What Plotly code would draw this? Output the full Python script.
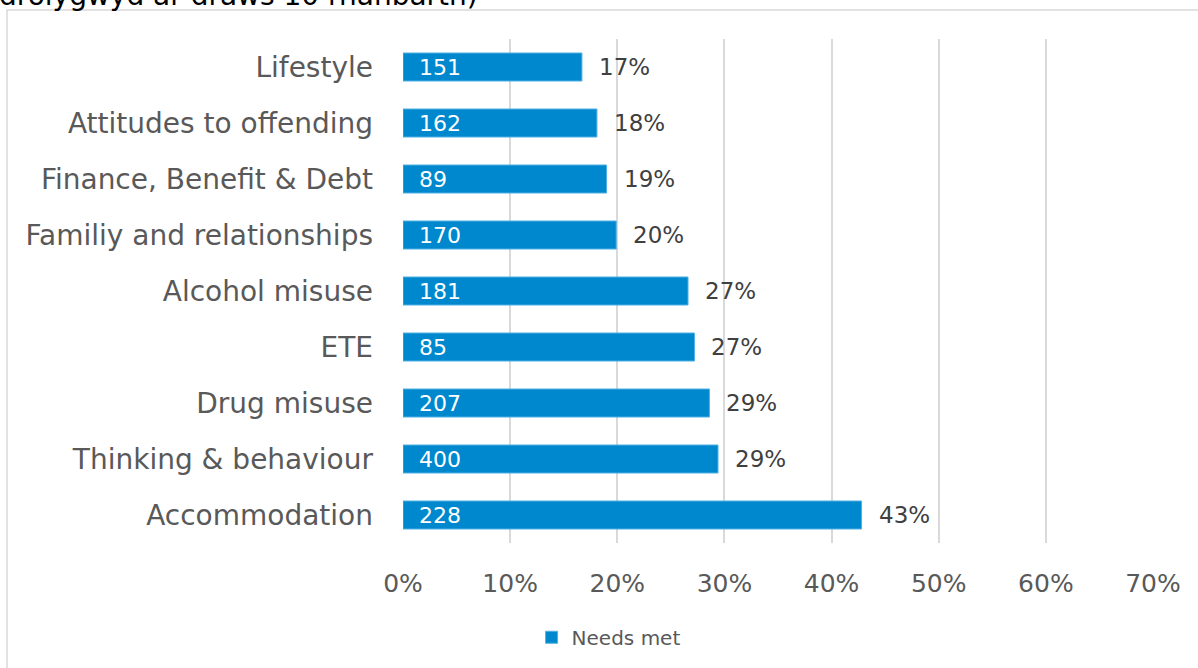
import plotly.graph_objects as go

categories = ["Accommodation", "Thinking & behaviour", "Drug misuse", "ETE",
              "Alcohol misuse", "Familiy and relationships", "Finance, Benefit & Debt",
              "Attitudes to offending", "Lifestyle"]
share = [0.428, 0.294, 0.286, 0.272, 0.266, 0.199, 0.190, 0.181, 0.167]
counts = [228, 400, 207, 85, 181, 170, 89, 162, 151]
pct_labels = ["43%", "29%", "29%", "27%", "27%", "20%", "19%", "18%", "17%"]
x_ticks = [0, 0.1, 0.2, 0.3, 0.4, 0.5, 0.6, 0.7]
x_tick_labels = ["0%", "10%", "20%", "30%", "40%", "50%", "60%", "70%"]
series_name = "Needs met"
title_fragment = "drolygwyd ar draws 10 rhanbarth)"

FONT = "Verdana, DejaVu Sans, sans-serif"
BLUE = "#0088CE"

fig = go.Figure()
fig.add_trace(go.Bar(
    y=categories, x=share, orientation="h", name=series_name,
    marker=dict(color=BLUE, line=dict(color="#4FB0E3", width=1)),
    width=0.5, hoverinfo="skip",
))

annotations = []
for cat, val, cnt, pct in zip(categories, share, counts, pct_labels):
    annotations.append(dict(x=0, y=cat, xref="x", yref="y", text=str(cnt),
                            xanchor="left", yanchor="middle", xshift=14,
                            showarrow=False,
                            font=dict(color="white", size=22, family=FONT)))
    annotations.append(dict(x=val, y=cat, xref="x", yref="y", text=pct,
                            xanchor="left", yanchor="middle", xshift=15,
                            showarrow=False,
                            font=dict(color="#404040", size=23, family=FONT)))

annotations.append(dict(text=title_fragment, xref="paper", yref="paper",
                        x=(-3 - 403) / 750, y=(543 - 14) / 504,
                        xanchor="left", yanchor="bottom", showarrow=False,
                        font=dict(size=28, color="#000000", family=FONT)))

fig.update_layout(
    width=1198, height=668,
    margin=dict(l=403, r=45, t=39, b=125),
    paper_bgcolor="white", plot_bgcolor="white",
    font=dict(family=FONT, color="#595959"),
    showlegend=True,
    legend=dict(orientation="h", xref="container", yref="container",
                x=0.508, xanchor="center", y=0.046, yanchor="middle",
                font=dict(size=20, color="#595959", family=FONT),
                itemwidth=30),
    xaxis=dict(range=[0, 0.7], tickvals=x_ticks, ticktext=x_tick_labels,
               showgrid=True, gridcolor="#D9D9D9", gridwidth=1.5,
               zeroline=False, showline=False,
               tickfont=dict(size=25, color="#595959", family=FONT),
               ticklabelstandoff=23),
    yaxis=dict(showgrid=False, zeroline=False, showline=False,
               tickfont=dict(size=28, color="#595959", family=FONT),
               ticklabelstandoff=29),
    shapes=[dict(type="rect", xref="paper", yref="paper",
                 x0=(7 - 403) / 750, x1=(1205 - 403) / 750,
                 y0=(543 - 680) / 504, y1=(543 - 10) / 504,
                 line=dict(color="#D9D9D9", width=1.5), layer="below")],
    annotations=annotations,
)

fig.write_html("out.html", config={"displayModeBar": False},
               post_script="document.body.style.margin='0px';")
